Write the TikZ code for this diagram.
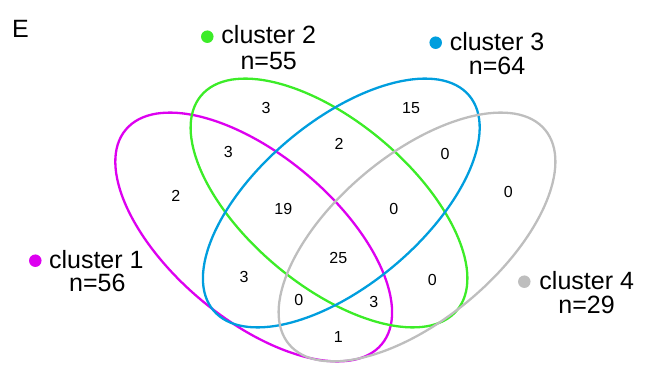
\documentclass[tikz,border=0pt]{standalone}
\usepackage{fontspec}
\setmainfont{Liberation Sans}
\definecolor{cOne}{RGB}{221,0,240}
\definecolor{cTwo}{RGB}{60,236,40}
\definecolor{cThree}{RGB}{0,158,222}
\definecolor{cFour}{RGB}{190,190,190}
\tikzset{
  setline/.style={line width=2.3pt},
  legtext/.style={anchor=base, inner sep=0pt, font=\fontsize{25}{29}\selectfont},
  legdot/.style={circle, fill=#1, inner sep=0pt, minimum size=12.5pt},
  count/.style={inner sep=0pt, font=\fontsize{16}{19}\selectfont},
}
\begin{document}
\begin{tikzpicture}[x=1pt, y=-1pt]
\useasboundingbox (0,0) rectangle (645,371);

% the four sets
\draw[setline, cOne]   [shift={(253.7,237)}, rotate=-40] (0,0) ellipse [x radius=167, y radius=82];
\draw[setline, cTwo]   [shift={(329,203)},   rotate=-40] (0,0) ellipse [x radius=167, y radius=82];
\draw[setline, cThree] [shift={(341.3,203)}, rotate=40]  (0,0) ellipse [x radius=167, y radius=82];
\draw[setline, cFour]  [shift={(417,237)},   rotate=40]  (0,0) ellipse [x radius=167, y radius=82];

% panel letter
\node[legtext] (panel) at (20.5,37.3) {E};

% legend entries
\node[legdot=cOne] (d1) at (35.3,260.7) {};
\node[legtext] (l1) at (96.3,268.3) {cluster 1};
\node[legtext] (n1) at (97.3,291.7) {n=56};

\node[legdot=cTwo] (d2) at (207.3,36.7) {};
\node[legtext] (l2) at (268.7,44) {cluster 2};
\node[legtext] (n2) at (268.7,69.3) {n=55};

\node[legdot=cThree] (d3) at (435.7,42.7) {};
\node[legtext] (l3) at (497,50.7) {cluster 3};
\node[legtext] (n3) at (497,75) {n=64};

\node[legdot=cFour] (d4) at (524.3,281.7) {};
\node[legtext] (l4) at (586.7,289.3) {cluster 4};
\node[legtext] (n4) at (586.5,313.3) {n=29};

% region counts
\node[count] (r2)    at (266,108.3)   {3};
\node[count] (r12)   at (228.3,151.7) {3};
\node[count] (r1)    at (175.7,196)   {2};
\node[count] (r3)    at (411,107.7)   {15};
\node[count] (r34)   at (445,154.3)   {0};
\node[count] (r23)   at (339,144)     {2};
\node[count] (r4)    at (508.3,191.7) {0};
\node[count] (r123)  at (283.3,209.3) {19};
\node[count] (r234)  at (393.7,209.3) {0};
\node[count] (r13)   at (244,277.3)   {3};
\node[count] (r1234) at (338.3,258.3) {25};
\node[count] (r24)   at (432.3,280)   {0};
\node[count] (r134)  at (298.7,300)   {0};
\node[count] (r124)  at (373.7,301.7) {3};
\node[count] (r14)   at (338.3,336.7) {1};
\end{tikzpicture}
\end{document}
